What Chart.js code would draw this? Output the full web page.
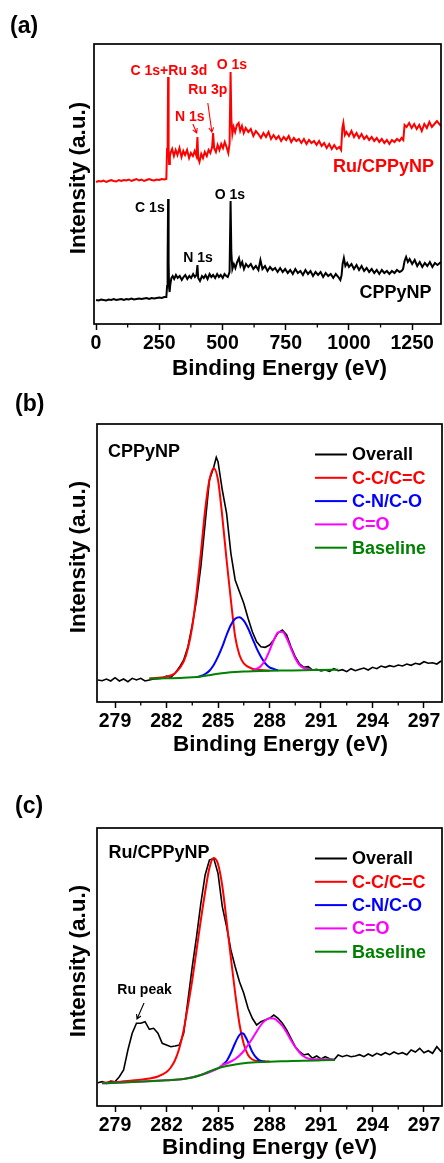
<!DOCTYPE html>
<html>
<head>
<meta charset="utf-8">
<script src="https://cdn.jsdelivr.net/npm/chart.js@4.4.1/dist/chart.umd.min.js"></script>
<style>
  body { margin: 0; background: #fff; }
  #wrap { position: relative; width: 444px; height: 1163px; }
  canvas { position: absolute; left: 0; }
</style>
</head>
<body>
<div id="wrap">
  <canvas id="chartA" width="444" height="385" style="top:0;width:444px;height:385px"></canvas>
  <canvas id="chartB" width="444" height="385" style="top:385px;width:444px;height:385px"></canvas>
  <canvas id="chartC" width="444" height="393" style="top:770px;width:444px;height:393px"></canvas>
</div>
<script>
// ---- (a) survey spectra ----
const aRuE = [0,10,20,30,40,50,60,70,80,90,100,110,120,130,140,150,160,170,180,190,200,210,220,230,240,250,260,270,278,
  281,283,285,287,289,292,296,301,308,315,322,330,338,345,352,360,368,375,383,390,397,401,404,409,416,423,430,438,445,452,
  459,463,467,474,481,488,495,502,509,516,523,528,532,535,539,544,550,557,564,570,577,584,592,602,
  612,622,632,642,652,662,672,682,692,702,712,722,732,742,752,762,772,782,792,802,812,822,832,842,852,862,872,882,892,902,
  912,922,932,942,952,962,969,974,978,984,990,1000,1010,1020,1030,1040,1050,1060,1070,1080,1090,1100,1110,1120,1130,1140,
  1150,1160,1170,1180,1190,1200,1208,1215,1220,1228,1238,1248,1258,1268,1278,1288,1298,1308,1318,1328,1338,1348,1364];
const aRuI = [142,143,142.5,143.5,142,143,144,143,142.5,144,143,144,143.5,144.5,143,144,145,143.5,144.5,143,144,145,144,143.5,144.5,144,145,144.5,145,
  176,172,247,175,160,168,172,175,168,174,169,176,167,173,169,174,166,171,168,173,168,187,166,162,170,166,172,168,174,171,
  177,191,176,172,179,174,180,176,182,177,171,180,252,205,190,197,192,199,201,193,198,191,196,192,
  195,188,193,190,186,191,187,192,185,189,185,188,183,187,184,188,182,186,183,185,181,185,180,184,181,183,179,183,178,181,
  176,180,175,179,175,177,174,196,201,189,192,188,193,187,191,186,190,185,188,184,187,183,186,182,185,181,
  184,180,184,182,185,183,186,184,199,197,201,196,200,195,199,193,200,196,202,197,200,203,198];

const aCpE = [0,10,20,30,40,50,60,70,80,90,100,110,120,130,140,150,160,170,180,190,200,210,220,230,240,250,260,270,278,
  281,283,285,287,289,291,294,298,303,309,316,323,331,339,346,353,361,369,376,384,391,397,401,404,411,419,426,433,441,449,
  456,463,471,479,486,493,501,508,515,521,528,532,535,539,545,551,558,565,571,578,585,593,602,
  612,622,632,642,650,658,668,678,688,698,708,718,728,738,748,758,768,778,788,798,808,818,828,838,848,858,868,878,888,898,
  908,918,928,938,948,958,966,971,975,980,986,993,1000,1010,1020,1030,1040,1050,1060,1070,1080,1090,1100,1110,1120,1130,
  1140,1150,1160,1170,1180,1190,1200,1208,1214,1220,1226,1233,1240,1250,1260,1270,1280,1290,1300,1310,1320,1330,1340,1350,1364];
const aCpI = [24,23.5,24.5,24,23.5,24.5,24,25,24,24.5,25,24,25,24.5,25.5,24.5,25,25.5,25,25.5,26,25,26,25.5,26,26.5,26,27,27,
  38,60,125,62,36,32,40,46,48,45,49,46,48,44,47,49,45,48,46,50,47,49,59,46,43,48,46,49,45,50,
  47,49,46,50,47,49,46,50,48,47,52,123,72,55,60,56,62,66,58,62,55,60,57,
  60,55,58,54,64,55,58,53,57,54,56,52,56,52,55,51,54,50,55,51,53,49,54,50,53,48,52,49,52,47,
  51,48,50,46,50,47,44,49,60,66,58,61,57,60,55,59,54,58,53,56,52,55,51,54,50,54,
  51,53,50,53,51,54,52,53,55,63,67,62,65,60,64,58,62,57,61,58,62,57,61,59,62];

const aTicks = [0, 250, 500, 750, 1000, 1250];
const aMinor = [125, 375, 625, 875, 1125];

// ---- (b) C 1s of CPPyNP ----
const bOverE = [278,278.25,278.5,278.75,279,279.25,279.5,279.75,280,280.25,280.5,280.75,281,281.25,281.5,281.75,282,282.25,282.5,282.75,
  283,283.25,283.5,283.75,284,284.25,284.5,284.75,284.9,285,285.25,285.5,285.75,286,286.25,286.5,286.75,287,287.25,287.5,
  287.75,288,288.25,288.5,288.75,289,289.25,289.5,289.75,290,290.25,290.5,290.75,291,291.25,291.5,291.75,292,292.25,292.5,
  292.75,293,293.25,293.5,293.75,294,294.25,294.5,294.75,295,295.25,295.5,295.75,296,296.25,296.5,296.75,297,297.25,297.5,297.75,298];
const bOver = [22,21.3,23,21,24.3,21,23,20.3,23.7,22,23.7,21,22,23,23.3,23.7,26,24.7,28.7,34.7,
  42,55.3,77,102,135.3,178.7,222,234.7,244.7,240.3,212,188.7,148.7,122,110.3,98.7,83.7,70.3,60.3,55.3,
  54.7,57,62,69.3,72,67,55.3,45.3,38,34.7,35.3,32,32.7,31,32,30.7,33.3,31.3,32.3,30.3,
  33.3,31.3,32.7,34,32,34.7,33.3,36,34.7,36.3,35.3,37,36,38,36.7,38.7,37.7,40.3,38.7,39.3,38,41];
const bCcE = [281,281.5,282,282.5,283,283.25,283.5,283.75,284,284.25,284.5,284.75,285,285.25,285.5,285.75,286,286.25,286.5,287,287.5,288];
const bCc = [23.3,24.3,25.3,28.7,40.3,53.7,75.3,108.7,148.7,192,222,233.7,222,185.3,142,102,65.3,47,38.7,33.3,32,31.3];
const bCnE = [283.75,284,284.25,284.5,284.75,285,285.25,285.5,285.75,286,286.25,286.5,286.75,287,287.25,287.5,287.75,288,288.25,288.5];
const bCn = [24.7,26,28,31.3,37,45.3,55.3,67,77,83.3,84.7,81.3,73.7,63.7,53.7,45.3,38.7,34.7,33,31.5];
const bCoE = [287,287.25,287.5,287.75,288,288.25,288.5,288.75,289,289.25,289.5,289.75,290,290.25,290.5];
const bCo = [31,33.3,36,42,51.3,62,69.7,70.3,63.7,53.7,43.7,37,34,33,31.9];
const bBaseE = [281,282,283,283.5,284,284.5,285,285.5,286,286.5,287,288,289,290,291,292];
const bBase = [23.5,23.7,24.2,24.7,25.5,26.8,28.3,29.3,30,30.5,30.8,31.2,31.5,31.8,32,32.3];

// ---- (c) C 1s of Ru/CPPyNP ----
const cOverE = [278,278.25,278.5,278.75,279,279.25,279.5,279.75,280,280.25,280.5,280.75,281,281.25,281.5,281.75,282,282.25,282.5,282.75,
  283,283.25,283.5,283.75,284,284.25,284.5,284.75,285,285.25,285.5,285.75,286,286.25,286.5,286.75,287,287.25,287.5,287.75,
  288,288.25,288.5,288.75,289,289.25,289.5,289.75,290,290.25,290.5,290.75,291,291.25,291.5,291.75,292,292.25,292.5,292.75,
  293,293.25,293.5,293.75,294,294.25,294.5,294.75,295,295.25,295.5,295.75,296,296.25,296.5,296.75,297,297.25,297.5,297.75,298];
const cOver = [23.3,24.3,22.7,25,24.3,29.3,36,56,72.7,82.7,82.7,84.3,76.7,77.7,72.7,62.7,61,59.3,60,61,
  72.7,106,139.3,169.3,202.7,231,246,247.7,232.7,199.3,179.3,156,139.3,124.3,112.7,97.7,87.7,81,84.3,86,
  87.7,91,87.7,82.7,76,67.7,59.3,54.3,51,52,47.7,50,47,49.3,47.3,46,51,49.3,50.7,49.3,
  50,51.3,49.3,52,50,52.7,51,53.3,51.3,54,52,53.3,51.3,56,54,57.7,53.3,55.3,52.7,59.3,54.3];
const cCcE = [278.25,279,280,280.5,281,281.5,282,282.25,282.5,282.75,283,283.25,283.5,283.75,284,284.25,284.5,284.75,285,285.25,285.5,285.75,286,286.25,286.5,286.75,287,287.5,288];
const cCc = [23.3,24,25.5,26.3,27.5,29.5,34,38.5,46,58,76,100,126,156,186,214,238,248,242,220,185,148,113,82,62,51,46.5,44.8,44.5];
const cCnE = [285.25,285.5,285.75,286,286.25,286.4,286.5,286.75,287,287.25,287.5,287.75];
const cCn = [41,45,53,63,71,72.7,72,64,54,48,45,44.5];
const cCoE = [278.25,280,282,283,284,285,285.25,285.5,285.75,286,286.25,286.5,286.75,287,287.25,287.5,287.75,288,288.25,288.5,288.75,289,289.25,289.5,289.75,290,290.25,290.5,291,291.75];
const cCo = [22.7,24,25.8,27,31,37.7,41,42.5,44.5,47,50.5,55,61,67.5,74.5,81,85.5,87.7,87.5,84.5,80,73.5,66,59,53.5,49.5,47.5,46.8,46.7,46.7];
const cBaseE = [278.25,279,280,281,282,283,283.5,284,284.5,285,285.5,286,286.5,287,288,289,290,291,291.8];
const cBase = [22.7,23.2,24,24.8,25.8,27,28.5,31,34.5,37.7,40,41.5,42.7,43.5,44.3,44.8,45.3,45.7,46];

const hrTicks = [279, 282, 285, 288, 291, 294, 297];
const hrMinor = [280.5, 283.5, 286.5, 289.5, 292.5, 295.5];
const legendNames = ["Overall", "C-C/C=C", "C-N/C-O", "C=O", "Baseline"];

const FONT = 'Arial, "Liberation Sans", Helvetica, sans-serif';
const RED = "#ff0000", BLUE = "#0000ff", MAG = "#ff00ff", GREEN = "#008000", BLACK = "#000000";
const legendColors = [BLACK, RED, BLUE, MAG, GREEN];

const pts = (xs, ys) => xs.map((x, i) => ({ x: x, y: ys[i] }));

function line(label, xs, ys, color, width, order, smooth) {
  return {
    label: label,
    data: pts(xs, ys),
    borderColor: color,
    borderWidth: width,
    pointRadius: 0,
    fill: false,
    order: order,
    cubicInterpolationMode: smooth ? "monotone" : "default",
    tension: 0,
  };
}

// frame, minor ticks, annotations, legend and titles
const deco = {
  id: "deco",
  afterDraw(chart, args, o) {
    const { ctx, chartArea: a } = chart;
    const sx = chart.scales.x, sy = chart.scales.y;
    ctx.save();
    ctx.strokeStyle = "#000";
    ctx.lineWidth = 1.7;
    ctx.strokeRect(a.left, a.top, a.right - a.left, a.bottom - a.top);
    ctx.lineWidth = 1.3;
    o.minor.forEach((v) => {
      const px = sx.getPixelForValue(v);
      ctx.beginPath();
      ctx.moveTo(px, a.bottom);
      ctx.lineTo(px, a.bottom + 3.5);
      ctx.stroke();
    });

    ctx.textAlign = "center";
    ctx.textBaseline = "middle";
    o.notes.forEach((n) => {
      ctx.font = "bold " + n.size + "px " + FONT;
      ctx.fillStyle = n.color;
      ctx.fillText(n.text, sx.getPixelForValue(n.x), sy.getPixelForValue(n.y));
    });

    o.arrows.forEach((r) => {
      const x1 = sx.getPixelForValue(r.x1), y1 = sy.getPixelForValue(r.y1);
      const x2 = sx.getPixelForValue(r.x2), y2 = sy.getPixelForValue(r.y2);
      const ang = Math.atan2(y2 - y1, x2 - x1);
      ctx.strokeStyle = r.color;
      ctx.lineWidth = 1.1;
      ctx.beginPath();
      ctx.moveTo(x1, y1);
      ctx.lineTo(x2, y2);
      ctx.moveTo(x2 - 5 * Math.cos(ang - 0.5), y2 - 5 * Math.sin(ang - 0.5));
      ctx.lineTo(x2, y2);
      ctx.lineTo(x2 - 5 * Math.cos(ang + 0.5), y2 - 5 * Math.sin(ang + 0.5));
      ctx.stroke();
    });

    if (o.legend) {
      ctx.font = "bold 18px " + FONT;
      ctx.textAlign = "left";
      legendNames.forEach((name, i) => {
        const yy = a.top + 30.5 + 23.3 * i;
        ctx.strokeStyle = legendColors[i];
        ctx.lineWidth = 2;
        ctx.beginPath();
        ctx.moveTo(a.left + 218, yy);
        ctx.lineTo(a.left + 250, yy);
        ctx.stroke();
        ctx.fillStyle = legendColors[i];
        ctx.fillText(name, a.left + 255, yy + 1);
      });
    }

    ctx.fillStyle = "#000";
    ctx.font = "bold 22.5px " + FONT;
    ctx.textAlign = "center";
    ctx.textBaseline = "alphabetic";
    ctx.fillText("Binding Energy (eV)", o.xTitleX, a.bottom + o.xTitleDy);
    ctx.save();
    ctx.translate(85, (a.top + a.bottom) / 2 - 6);
    ctx.rotate(-Math.PI / 2);
    ctx.fillText("Intensity (a.u.)", 0, 0);
    ctx.restore();

    ctx.font = "bold 23px " + FONT;
    ctx.textAlign = "left";
    ctx.fillText(o.panel, o.panelX, o.panelY);
    ctx.restore();
  },
};

function scales(xMin, xMax, majors, xH, yW, yMax) {
  return {
    x: {
      type: "linear",
      min: xMin,
      max: xMax,
      afterBuildTicks: (s) => { s.ticks = majors.map((v) => ({ value: v })); },
      afterFit: (s) => { s.height = xH; },
      ticks: {
        color: "#000",
        font: { family: FONT, size: 19.5, weight: "bold" },
        padding: 2,
        maxRotation: 0,
        autoSkip: false,
        callback: (v) => String(v),
      },
      grid: { drawOnChartArea: false, drawTicks: true, tickLength: 6, tickWidth: 1.5, tickColor: "#000" },
      border: { display: false },
    },
    y: {
      type: "linear",
      min: 0,
      max: yMax,
      afterFit: (s) => { s.width = yW; },
      ticks: { display: false },
      grid: { display: false },
      border: { display: false },
    },
  };
}

function base(padTop, padRight, sc, decoOpts) {
  return {
    responsive: false,
    animation: false,
    layout: { padding: { top: padTop, right: padRight, left: 0, bottom: 0 } },
    scales: sc,
    plugins: { legend: { display: false }, tooltip: { enabled: false }, deco: decoOpts },
  };
}

new Chart(document.getElementById("chartA"), {
  type: "line",
  data: {
    datasets: [
      line("Ru/CPPyNP", aRuE, aRuI, RED, 2, 1, false),
      line("CPPyNP", aCpE, aCpI, BLACK, 2, 2, false),
    ],
  },
  options: base(44, 3, scales(-8, 1364, aTicks, 61, 94, 280), {
    panel: "(a)", panelX: 10, panelY: 33, xTitleX: 279.5, xTitleDy: 51,
    minor: aMinor, legend: false,
    notes: [
      { text: "C 1s+Ru 3d", x: 288, y: 253, color: RED, size: 14 },
      { text: "O 1s", x: 537, y: 259, color: RED, size: 14 },
      { text: "Ru 3p", x: 442, y: 234, color: RED, size: 14 },
      { text: "N 1s", x: 371, y: 207, color: RED, size: 14 },
      { text: "Ru/CPPyNP", x: 1137, y: 157, color: RED, size: 18 },
      { text: "C 1s", x: 213, y: 116, color: BLACK, size: 14 },
      { text: "O 1s", x: 529, y: 129, color: BLACK, size: 14 },
      { text: "N 1s", x: 403, y: 66, color: BLACK, size: 14 },
      { text: "CPPyNP", x: 1184, y: 31, color: BLACK, size: 18 },
    ],
    arrows: [
      { x1: 383, y1: 200, x2: 398, y2: 191, color: RED },
      { x1: 442, y1: 221, x2: 458, y2: 192, color: RED },
    ],
  }),
  plugins: [deco],
});

new Chart(document.getElementById("chartB"), {
  type: "line",
  data: {
    datasets: [
      line("Overall", bOverE, bOver, BLACK, 1.6, 5, false),
      line("C-C/C=C", bCcE, bCc, RED, 2, 4, true),
      line("C-N/C-O", bCnE, bCn, BLUE, 2, 3, true),
      line("C=O", bCoE, bCo, MAG, 2, 2, true),
      line("Baseline", bBaseE, bBase, GREEN, 2, 1, true),
    ],
  },
  options: base(39, 2, scales(277.95, 298.05, hrTicks, 68, 97, 278), {
    panel: "(b)", panelX: 15, panelY: 26, xTitleX: 280.5, xTitleDy: 49,
    minor: hrMinor, legend: true,
    notes: [{ text: "CPPyNP", x: 280.69, y: 250, color: BLACK, size: 18 }],
    arrows: [],
  }),
  plugins: [deco],
});

new Chart(document.getElementById("chartC"), {
  type: "line",
  data: {
    datasets: [
      line("Overall", cOverE, cOver, BLACK, 1.6, 5, false),
      line("C-C/C=C", cCcE, cCc, RED, 2, 4, true),
      line("C-N/C-O", cCnE, cCn, BLUE, 2, 3, true),
      line("C=O", cCoE, cCo, MAG, 2, 2, true),
      line("Baseline", cBaseE, cBase, GREEN, 2, 1, true),
    ],
  },
  options: base(58, 2, scales(277.95, 298.05, hrTicks, 57, 97, 278), {
    panel: "(c)", panelX: 15, panelY: 43, xTitleX: 269.5, xTitleDy: 48,
    minor: hrMinor, legend: true,
    notes: [
      { text: "Ru/CPPyNP", x: 281.56, y: 253, color: BLACK, size: 18 },
      { text: "Ru peak", x: 280.72, y: 116, color: BLACK, size: 14 },
    ],
    arrows: [{ x1: 280.69, y1: 103, x2: 280.28, y2: 87, color: BLACK }],
  }),
  plugins: [deco],
});
</script>
</body>
</html>
